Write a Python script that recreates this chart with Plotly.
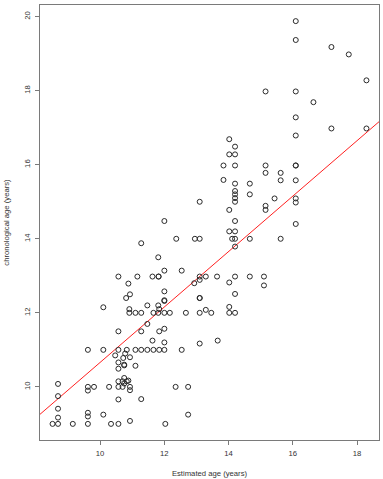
import plotly.graph_objects as go

# Estimated age (years) vs chronological age (years)
estimated_age = [
    8.52, 8.69, 8.69, 8.69, 8.69, 8.69, 9.15, 9.62, 9.62, 9.62,
    9.62, 9.62, 9.62, 9.81, 10.10, 10.10, 10.10, 10.28, 10.34, 10.57,
    10.57, 10.57, 10.57, 10.57, 10.57, 10.57, 10.57, 10.57, 10.47, 10.70,
    10.70, 10.75, 10.75, 10.75, 10.75, 10.72, 10.78, 10.83, 10.88, 10.83,
    10.93, 10.93, 10.93, 10.93, 10.88, 10.81, 10.93, 10.91, 10.91, 11.10,
    11.28, 11.66, 11.81, 12.00, 12.17, 12.67, 13.10, 13.46, 14.02, 14.20,
    11.10, 11.28, 11.47, 11.66, 11.84, 12.00, 12.54, 11.10, 11.28, 12.35,
    12.74, 12.74, 12.03, 11.63, 12.00, 13.10, 13.66, 11.28, 11.84, 12.00,
    11.47, 11.47, 11.81, 11.84, 12.00, 13.29, 14.02, 11.16, 11.63, 11.82,
    11.82, 12.00, 12.54, 12.00, 12.00, 13.10, 13.10, 12.93, 13.29, 13.64,
    14.20, 14.66, 15.10, 15.10, 14.02, 14.20, 13.10, 13.10, 11.28, 11.81,
    12.00, 12.37, 12.95, 13.10, 14.11, 14.20, 14.66, 15.62, 14.20, 14.02,
    14.20, 14.20, 14.02, 13.10, 14.20, 14.20, 14.20, 14.20, 14.66, 14.20,
    14.66, 13.84, 13.84, 14.20, 14.02, 14.20, 14.20, 14.02, 15.15, 15.15,
    15.15, 15.15, 16.09, 16.09, 15.62, 15.62, 16.09, 15.43, 16.09, 16.09,
    16.09, 15.15, 16.09, 16.64, 16.09, 16.09, 17.20, 18.29, 16.09, 16.09,
    17.20, 17.74, 18.29,
]
chronological_age = [
    9.00, 9.00, 9.17, 9.41, 9.75, 10.08, 9.00, 9.00, 9.20, 9.30,
    9.90, 10.00, 11.00, 10.00, 9.25, 11.00, 12.15, 10.00, 9.00, 9.00,
    9.66, 10.00, 10.15, 10.49, 10.66, 11.00, 11.50, 12.98, 10.85, 10.00,
    10.15, 10.09, 10.24, 10.58, 10.60, 10.78, 10.90, 10.15, 10.17, 11.00,
    10.80, 10.00, 9.91, 9.08, 12.79, 12.40, 12.50, 12.10, 12.00, 12.00,
    12.00, 12.00, 12.00, 12.00, 12.00, 12.00, 12.00, 12.00, 12.00, 12.00,
    11.00, 11.00, 11.00, 11.00, 11.00, 11.00, 11.00, 10.57, 9.67, 10.00,
    10.00, 9.25, 9.00, 11.25, 11.20, 11.17, 11.25, 11.50, 11.50, 11.57,
    11.70, 12.20, 12.20, 12.10, 12.32, 12.08, 12.16, 12.98, 12.98, 12.98,
    12.98, 13.14, 13.14, 12.58, 12.34, 12.98, 12.89, 12.80, 12.98, 12.98,
    12.98, 12.98, 12.98, 12.74, 12.82, 12.51, 12.40, 12.40, 13.88, 13.50,
    14.48, 14.00, 14.00, 14.00, 14.00, 14.00, 14.00, 14.00, 13.79, 14.20,
    14.20, 14.48, 14.78, 15.00, 15.00, 15.10, 15.20, 15.29, 15.20, 15.49,
    15.49, 15.59, 15.98, 15.98, 16.28, 16.28, 16.49, 16.69, 15.98, 15.78,
    14.89, 14.78, 15.98, 15.98, 15.78, 15.58, 15.58, 15.09, 15.09, 14.98,
    14.40, 17.98, 17.98, 17.69, 17.28, 16.79, 16.98, 16.98, 19.88, 19.37,
    19.18, 18.98, 18.28,
]

# Fitted regression line (abline)
fit_intercept = 3.17
fit_slope = 0.749

x_ticks = [10, 12, 14, 16, 18]
y_ticks = [10, 12, 14, 16, 18, 20]


def r_range(vals):
    lo, hi = min(vals), max(vals)
    pad = (hi - lo) * 0.04
    return [lo - pad, hi + pad]


xr = r_range(estimated_age)
yr = r_range(chronological_age)

FONT = "Liberation Sans, Arial, sans-serif"
TXT = "#333333"
AX = "#7a7a7a"

fig = go.Figure()

fig.add_trace(go.Scatter(
    x=xr,
    y=[fit_intercept + fit_slope * v for v in xr],
    mode="lines",
    line=dict(color="#ff2020", width=1),
    hoverinfo="skip",
    showlegend=False,
))

fig.add_trace(go.Scatter(
    x=estimated_age,
    y=chronological_age,
    mode="markers",
    marker=dict(symbol="circle-open", size=5, color="#2a2a2a",
                line=dict(width=1, color="#2a2a2a")),
    showlegend=False,
))

axis_common = dict(
    showgrid=False, zeroline=False,
    showline=True, mirror=True, linecolor=AX, linewidth=1,
    ticks="outside", ticklen=4, tickcolor=AX, tickwidth=1,
    ticklabelstandoff=2,
    tickfont=dict(family=FONT, size=7.7, color=TXT),
)

fig.update_layout(
    width=383, height=479,
    margin=dict(l=40, r=4, t=5, b=39),
    paper_bgcolor="white", plot_bgcolor="white",
    font=dict(family=FONT, size=7.7, color=TXT),
    xaxis=dict(
        range=xr, tickvals=x_ticks, ticktext=[str(t) for t in x_ticks],
        title=dict(text="Estimated age (years)",
                   font=dict(family=FONT, size=7.7, color=TXT), standoff=13),
        automargin=False,
        **axis_common,
    ),
    yaxis=dict(
        range=yr, tickvals=y_ticks, ticktext=[str(t) for t in y_ticks],
        tickangle=-90,
        title=dict(text="chronological age (years)",
                   font=dict(family=FONT, size=7.7, color=TXT), standoff=12),
        automargin=False,
        **axis_common,
    ),
)

fig.write_html(
    "out.html",
    config={"displayModeBar": False},
    post_script="document.body.style.margin='0';document.body.style.overflow='hidden';",
)
